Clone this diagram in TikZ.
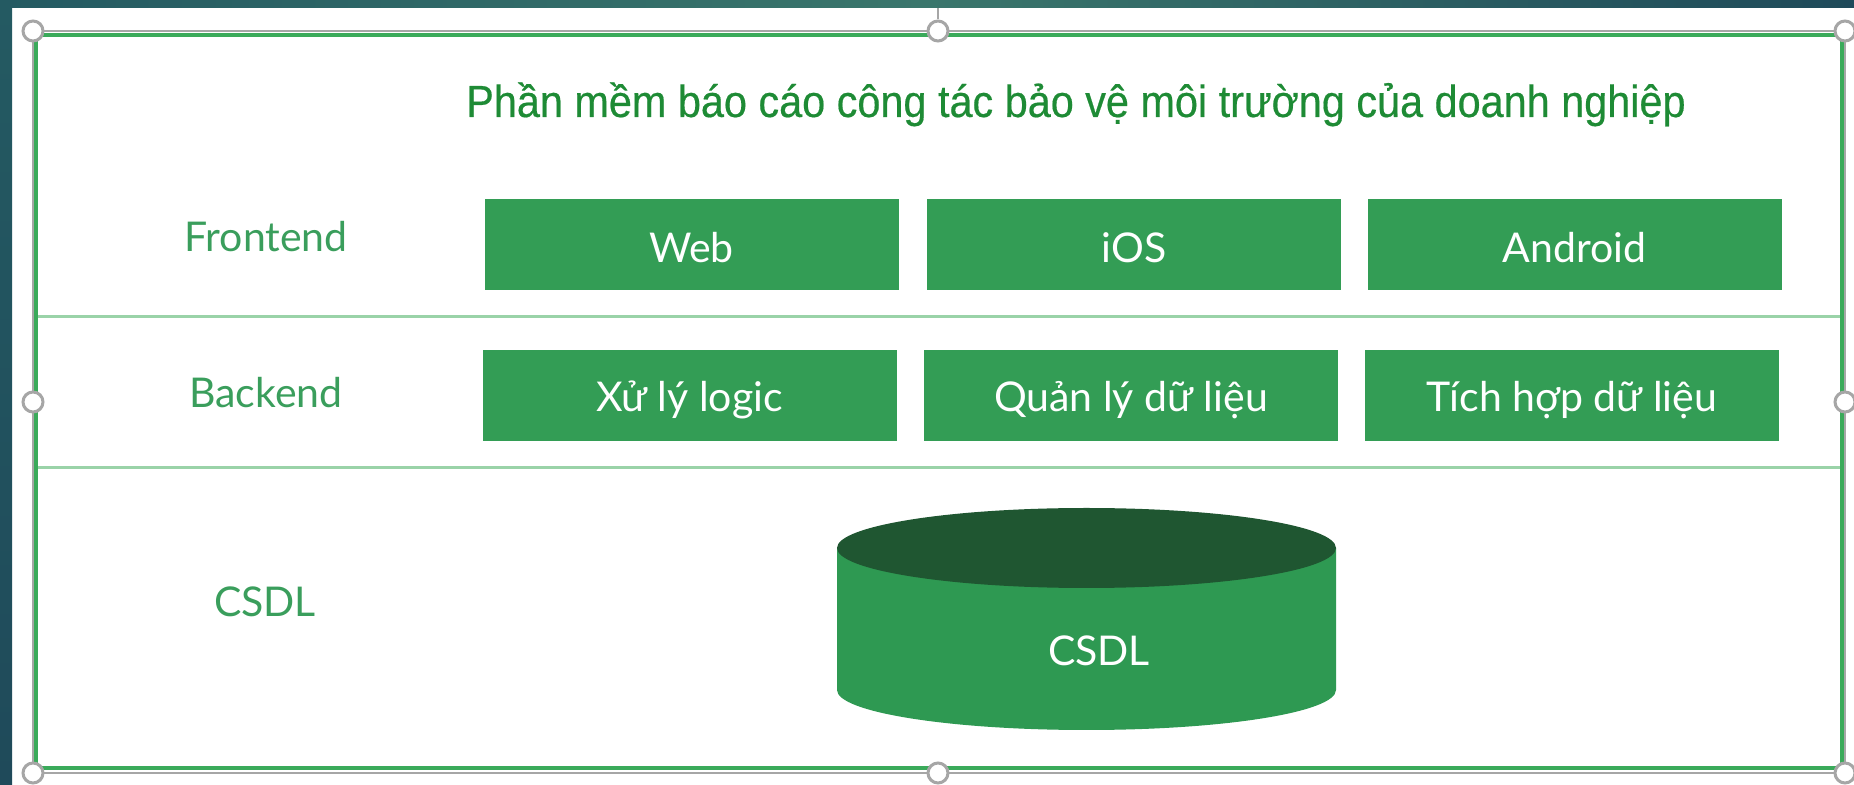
\documentclass[tikz,border=0pt]{standalone}
\usepackage{fontspec}
\setmainfont{Lato}
\newfontfamily\titlefont[FakeStretch=0.92,FakeBold=0.4]{Liberation Sans}
\definecolor{boxgreen}{HTML}{339D55}
\definecolor{cylside}{HTML}{2E9952}
\definecolor{cyltop}{HTML}{1F5631}
\definecolor{labgreen}{HTML}{3A9E5C}
\definecolor{titlegreen}{HTML}{1E8B35}
\definecolor{framegreen}{HTML}{3AAA5A}
\definecolor{sepgreen}{HTML}{9AD3A8}
\definecolor{selgray}{HTML}{A6A6A6}
\definecolor{tealA}{HTML}{245A62}
\definecolor{tealB}{HTML}{3A766C}
\definecolor{tealC}{HTML}{1F4A5A}
\begin{document}
\begin{tikzpicture}[x=0.5pt,y=-0.5pt,
  boxfe/.style={fill=boxgreen, minimum width=207pt, minimum height=45.5pt, inner sep=0pt,
    text=white, font=\fontsize{20.5pt}{24pt}\selectfont, text height=18.5pt, text depth=0pt},
  boxbe/.style={boxfe, text height=16.5pt},
  rowlab/.style={anchor=base, text=labgreen, font=\fontsize{20.5pt}{24pt}\selectfont, inner sep=0pt},
  handle/.style={circle, draw=selgray, line width=1.5pt, fill=white, minimum size=10pt, inner sep=0pt}
]
\useasboundingbox (0,0) rectangle (1854,785);
% background
\fill[white] (0,0) rectangle (1854,785);
\shade[left color=tealA, right color=tealC, middle color=tealB] (0,0) rectangle (1854,8);
\shade[top color=tealA, bottom color=tealC] (0,0) rectangle (12,785);
% frame
\draw[framegreen, line width=2pt] (36,35) rectangle (1842,768);
% separators
\draw[sepgreen, line width=1.5pt] (38,317) -- (1840,317);
\draw[sepgreen, line width=1.5pt] (38,468) -- (1840,468);
% title
\node[anchor=base, text=titlegreen, inner sep=0pt, font=\titlefont\fontsize{22.5pt}{26pt}\selectfont] (title) at (1076,117) {Phần mềm báo cáo công tác bảo vệ môi trường của doanh nghiệp};
% row labels
\node[rowlab] (lfe) at (266,252) {Frontend};
\node[rowlab] (lbe) at (266,408) {Backend};
\node[rowlab] (ldb) at (265,617) {CSDL};
% frontend boxes
\node[boxfe] (web) at (691.5,244.5) {Web};
\node[boxfe] (ios) at (1134,244.5) {iOS};
\node[boxfe] (android) at (1574.5,244.5) {Android};
% backend boxes
\node[boxbe] (logic) at (689.5,395.5) {Xử lý logic};
\node[boxbe] (qldl) at (1131,395.5) {Quản lý dữ liệu};
\node[boxbe] (thdl) at (1572,395.5) {Tích hợp dữ liệu};
% cylinder
\fill[cylside] (837,548) -- (837,690) arc[start angle=180, end angle=0, x radius=249.5, y radius=40] -- (1336,548) -- cycle;
\fill[cyltop] (1086.5,548) ellipse[x radius=249.5, y radius=40];
\node[anchor=base, text=white, inner sep=0pt, font=\fontsize{20.5pt}{24pt}\selectfont] (db) at (1099,666) {CSDL};
% selection box
\draw[selgray, line width=0.6pt] (33,31) rectangle (1845,773);
\coordinate (rot) at (938,8);
\node[handle] (hn) at (938,31) {};
\draw[selgray, line width=1pt] (rot) -- (hn.north);
\node[handle] at (33,31) {};
\node[handle] at (1845,31) {};
\node[handle] at (33,773) {};
\node[handle] at (1845,773) {};
\node[handle] at (938,773) {};
\node[handle] at (33,402) {};
\node[handle] at (1845,402) {};
\end{tikzpicture}
\end{document}
